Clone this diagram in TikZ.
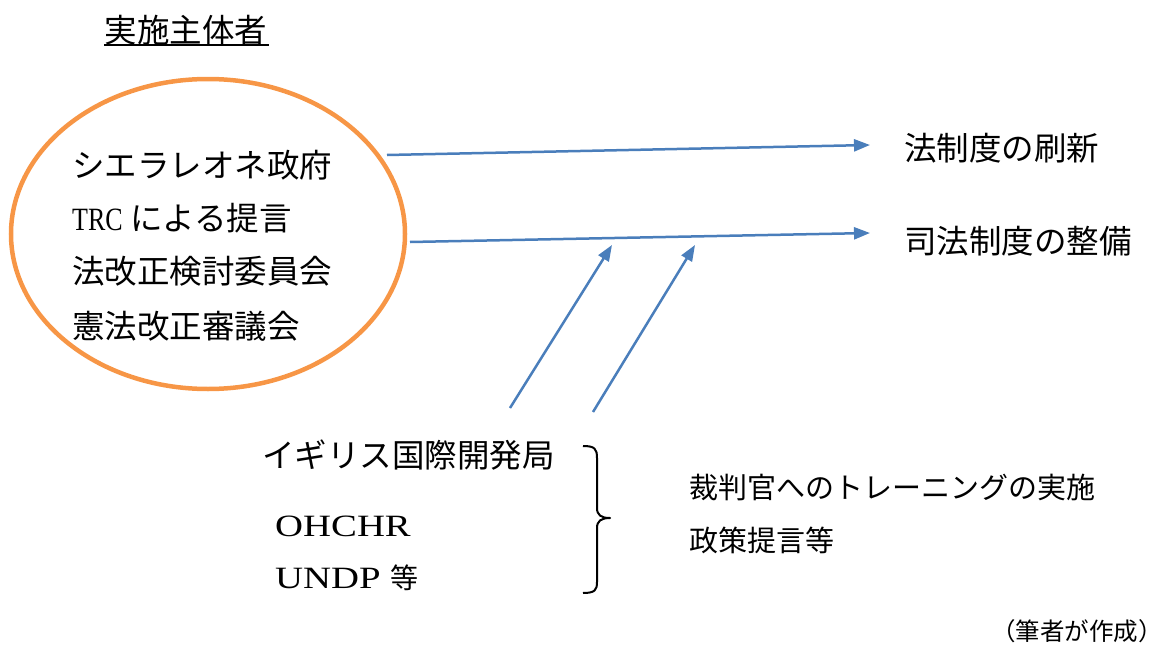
\documentclass[tikz,border=0pt]{standalone}
\usepackage{fontspec}
\setmainfont{Liberation Serif}
\newfontfamily\jp{Noto Sans CJK JP}
\newfontfamily\wide[FakeStretch=1.25]{Liberation Serif}
\newfontfamily\narrow[FakeStretch=0.8]{Liberation Serif}
\usetikzlibrary{arrows.meta,shapes.geometric}
\definecolor{orng}{HTML}{F79646}
\definecolor{blu}{HTML}{4A7EBB}
\begin{document}
\begin{tikzpicture}[x=1pt,y=-1pt,
  lbl/.style={anchor=west,inner sep=0pt,font=\jp\fontsize{32.5}{38}\selectfont},
  small/.style={anchor=west,inner sep=0pt,font=\jp\fontsize{29}{34}\selectfont},
  latn/.style={anchor=west,inner sep=0pt,font=\wide\fontsize{31}{36}\selectfont},
  arr/.style={blu,line width=2.5pt,-{Triangle[length=16pt,width=12pt]}}]
\useasboundingbox (0,0) rectangle (1165,645);
% title
\node[lbl,anchor=center] (title) at (186,30) {実施主体者};
\draw[line width=2pt] (104,45) -- (269,45);
% ellipse
\node[draw=orng,line width=4.5pt,ellipse,minimum width=394pt,minimum height=310pt,inner sep=0pt] (ell) at (208,234) {};
\node[lbl] (l1) at (72,165) {シエラレオネ政府};
\node[lbl] (l2) at (72,218) {{\narrow TRC} による提言};
\node[lbl] (l3) at (72,271) {法改正検討委員会};
\node[lbl] (l4) at (72,326) {憲法改正審議会};
% outcomes
\node[lbl] (o1) at (904,148) {法制度の刷新};
\node[lbl] (o2) at (904,241) {司法制度の整備};
\coordinate (a1s) at (387,155);
\coordinate (a1e) at (870,145);
\coordinate (a2s) at (410,242);
\coordinate (a2e) at (870,233);
\draw[arr] (a1s) -- (a1e);
\draw[arr] (a2s) -- (a2e);
% donors
\node[lbl] (d1) at (262,455) {イギリス国際開発局};
\node[latn] (d2) at (275,526) {OHCHR};
\node[latn] (d3) at (275,578) {UNDP {\jp\fontsize{28}{32}\selectfont 等}};
\coordinate (b1s) at (510,408);
\coordinate (b1e) at (612,245);
\coordinate (b2s) at (593,412);
\coordinate (b2e) at (695,245);
\draw[arr] (b1s) -- (b1e);
\draw[arr] (b2s) -- (b2e);
% brace
\coordinate (bt) at (583,446);
\coordinate (bb) at (583,593);
\coordinate (btip) at (610,518);
\draw[line width=2pt,line join=round]
  (bt) .. controls (595,446) and (597,449) .. (597,458)
  -- (597,508) .. controls (597,515) and (601,518) .. (btip)
  .. controls (601,518) and (597,521) .. (597,528)
  -- (597,582) .. controls (597,590) and (595,593) .. (bb);
% activities
\node[small] (t1) at (689,487) {裁判官へのトレーニングの実施};
\node[small] (t2) at (689,540) {政策提言等};
% source
\node[anchor=east,inner sep=0pt,font=\jp\fontsize{24.5}{28}\selectfont] (src) at (1163,631) {（筆者が作成）};
\end{tikzpicture}
\end{document}
